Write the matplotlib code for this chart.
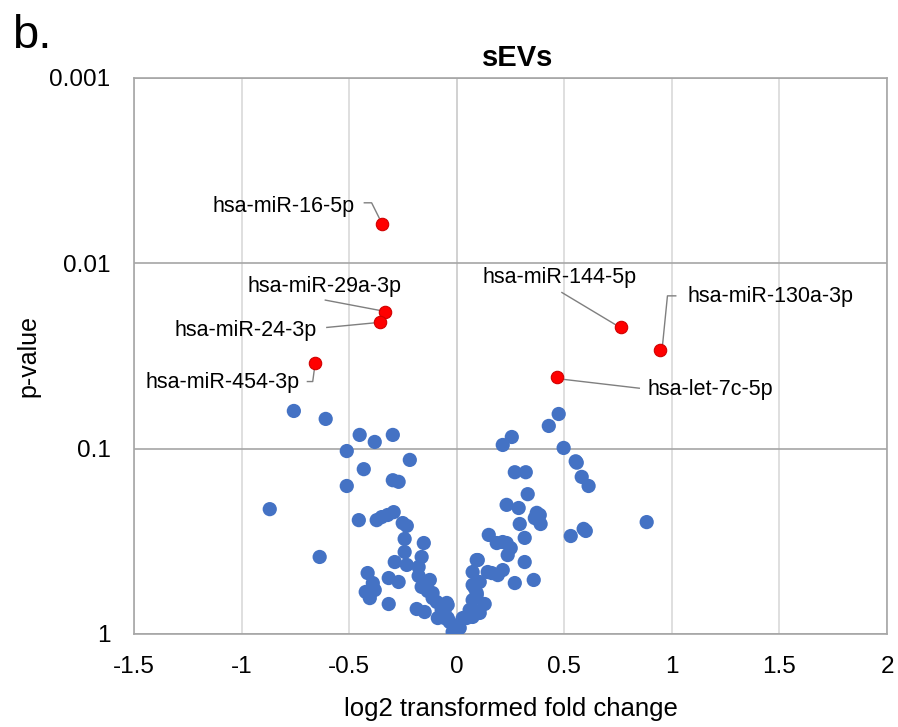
import numpy as np
import matplotlib
matplotlib.use("Agg")
import matplotlib.pyplot as plt
from matplotlib.ticker import FixedLocator, FixedFormatter, NullLocator

plt.rcParams['font.family'] = ['Liberation Sans', 'DejaVu Sans']

# ---------------- data ----------------
# non-significant miRNAs (blue)
blue_fc = [-0.757, -0.609, -0.451, -0.381, -0.297, -0.511, -0.218, -0.432, -0.297, -0.270,
           -0.511, -0.869, -0.455, -0.372, -0.349, -0.321, -0.293, -0.251, -0.232, -0.242,
           -0.153, -0.242, -0.288, -0.232, -0.163, -0.637, -0.414, -0.177, -0.390, -0.316,
           -0.270, -0.423, -0.381, -0.404, -0.316, -0.177, -0.163, -0.125, -0.186, -0.149,
           -0.112, -0.093, -0.070, -0.042, -0.088, -0.056, -0.033, 0.000, -0.009, -0.135,
           -0.112, -0.046, -0.056, -0.042, -0.065,
           0.028, 0.060, 0.074, 0.093, 0.074, 0.093,
           0.232, 0.288, 0.372, 0.386, 0.363, 0.390, 0.293,
           0.149, 0.316, 0.186, 0.214, 0.232, 0.251, 0.237,
           0.530, 0.590, 0.600, 0.098, 0.316,
           0.144, 0.163, 0.191, 0.214, 0.270, 0.358,
           0.107, 0.084, 0.093, 0.074, 0.130,
           0.093, 0.060, 0.074, 0.107, 0.005, 0.014, -0.019, 0.046,
           0.474, 0.428, 0.256, 0.214, 0.497, 0.553, 0.558, 0.581, 0.613, 0.270,
           0.321, 0.330, 0.883]
blue_p = [0.0626, 0.0691, 0.0843, 0.092, 0.0843, 0.103, 0.115, 0.129, 0.148, 0.151,
          0.159, 0.212, 0.243, 0.243, 0.234, 0.228, 0.220, 0.252, 0.261, 0.307,
          0.323, 0.361, 0.409, 0.424, 0.384, 0.384, 0.469, 0.435, 0.531, 0.499,
          0.524, 0.593, 0.579, 0.640, 0.689, 0.486, 0.557, 0.511, 0.733, 0.761,
          0.601, 0.672, 0.742, 0.697, 0.820, 0.820, 0.861, 0.952, 0.975, 0.586,
          0.640, 0.680, 0.742, 0.820, 0.809,
          0.820, 0.742, 0.463, 0.399, 0.544, 0.601,
          0.201, 0.209, 0.222, 0.228, 0.237, 0.255, 0.255,
          0.292, 0.303, 0.323, 0.319, 0.323, 0.344, 0.375,
          0.296, 0.271, 0.278, 0.399, 0.409,
          0.463, 0.469, 0.481, 0.452, 0.531, 0.511,
          0.524, 0.565, 0.616, 0.656, 0.689,
          0.761, 0.789, 0.809, 0.770, 0.917, 0.928, 0.975, 0.820,
          0.0650, 0.0754, 0.0865, 0.0955, 0.0991, 0.117, 0.119, 0.142, 0.159, 0.134,
          0.134, 0.176, 0.249]

# significant miRNAs (red)
red_names = ['hsa-miR-16-5p', 'hsa-miR-29a-3p', 'hsa-miR-24-3p', 'hsa-miR-454-3p',
             'hsa-miR-144-5p', 'hsa-miR-130a-3p', 'hsa-let-7c-5p']
red_fc = [-0.349, -0.335, -0.356, -0.660, 0.765, 0.947, 0.466]
red_p = [0.00612, 0.0183, 0.0206, 0.0343, 0.0221, 0.0293, 0.0412]

x_ticks = [-1.5, -1, -0.5, 0, 0.5, 1, 1.5, 2]
x_ticklabels = ['-1.5', '-1', '-0.5', '0', '0.5', '1', '1.5', '2']
y_ticks = [0.001, 0.01, 0.1, 1]
y_ticklabels = ['0.001', '0.01', '0.1', '1']

# ---------------- layout (pixel offsets from each red point, image y-down) ----------------
label_layout = {
    'hsa-miR-16-5p':   dict(text=(-27, -17), ha='right',  path=[(-18, -21), (-10, -21), (-2, -5)]),
    'hsa-miR-29a-3p':  dict(text=(-60, -25), ha='center', path=[(-60, -12), (-2, -1)]),
    'hsa-miR-24-3p':   dict(text=(-63, 9),   ha='right',  path=[(-54, 6), (-2, 1)]),
    'hsa-miR-454-3p':  dict(text=(-15, 20),  ha='right',  path=[(-8, 19), (-2, 19), (0, 4)]),
    'hsa-miR-144-5p':  dict(text=(-62, -50), ha='center', path=[(-60, -35), (-5, -2)]),
    'hsa-miR-130a-3p': dict(text=(27, -53),  ha='left',   path=[(16, -54), (7, -54), (2, -4)]),
    'hsa-let-7c-5p':   dict(text=(91, 12),   ha='left',   path=[(6, 2), (83, 11)]),
}

W, H, DPI = 898, 727, 100
fig = plt.figure(figsize=(W / DPI, H / DPI), dpi=DPI)
ax = fig.add_axes([134 / W, 1 - 634 / H, (887 - 134) / W, (634 - 78) / H])

ax.set_xscale('linear')
ax.set_yscale('log')
ax.set_xlim(-1.5, 2)
ax.set_ylim(1, 0.001)

grid_dark = '#a6a6a6'
grid_light = '#d9d9d9'

ax.xaxis.set_major_locator(FixedLocator(x_ticks))
ax.xaxis.set_major_formatter(FixedFormatter(x_ticklabels))
ax.yaxis.set_major_locator(FixedLocator(y_ticks))
ax.yaxis.set_major_formatter(FixedFormatter(y_ticklabels))
ax.yaxis.set_minor_locator(NullLocator())
ax.xaxis.set_minor_locator(NullLocator())

ax.grid(True, axis='x', color=grid_light, lw=1.2, zorder=0)
ax.grid(True, axis='y', color=grid_dark, lw=1.2, zorder=0)
ax.axvline(0, color=grid_dark, lw=1.2, zorder=0.5)
for s in ax.spines.values():
    s.set_color(grid_dark)
    s.set_linewidth(1.2)
ax.set_axisbelow(True)

ax.tick_params(axis='both', length=0, labelsize=17.5, colors='#000000')
ax.tick_params(axis='x', pad=15.5)
ax.tick_params(axis='y', pad=17)

ax.scatter(blue_fc, blue_p, s=105, color='#4472C4', edgecolors='none', zorder=3)
ax.scatter(red_fc, red_p, s=80, color='#FF0000', edgecolors='#D00000', linewidths=0.8, zorder=4)

# labels with leader lines
fig.canvas.draw()
to_data = ax.transData.inverted()
for name, fx, pv in zip(red_names, red_fc, red_p):
    lay = label_layout[name]
    bx, by = ax.transData.transform((fx, pv))
    pts = [to_data.transform((bx + dx, by - dy)) for dx, dy in lay['path']]
    ax.plot([q[0] for q in pts], [q[1] for q in pts], color='#7f7f7f', lw=1.0, zorder=2.5,
            solid_capstyle='butt')
    tx, ty = to_data.transform((bx + lay['text'][0], by - lay['text'][1]))
    ax.text(tx, ty, name, ha=lay['ha'], va='center', fontsize=15.5, color='#000000', zorder=5)

ax.set_title('sEVs', fontsize=21, fontweight='bold', pad=9, x=0.51)
ax.set_xlabel('log2 transformed fold change', fontsize=18.5, labelpad=14)
ax.set_ylabel('p-value', fontsize=18, labelpad=6)

fig.text(12 / W, 1 - 48 / H, 'b.', fontsize=34, ha='left', va='baseline')

fig.savefig('out.png', dpi=DPI, facecolor='white')
